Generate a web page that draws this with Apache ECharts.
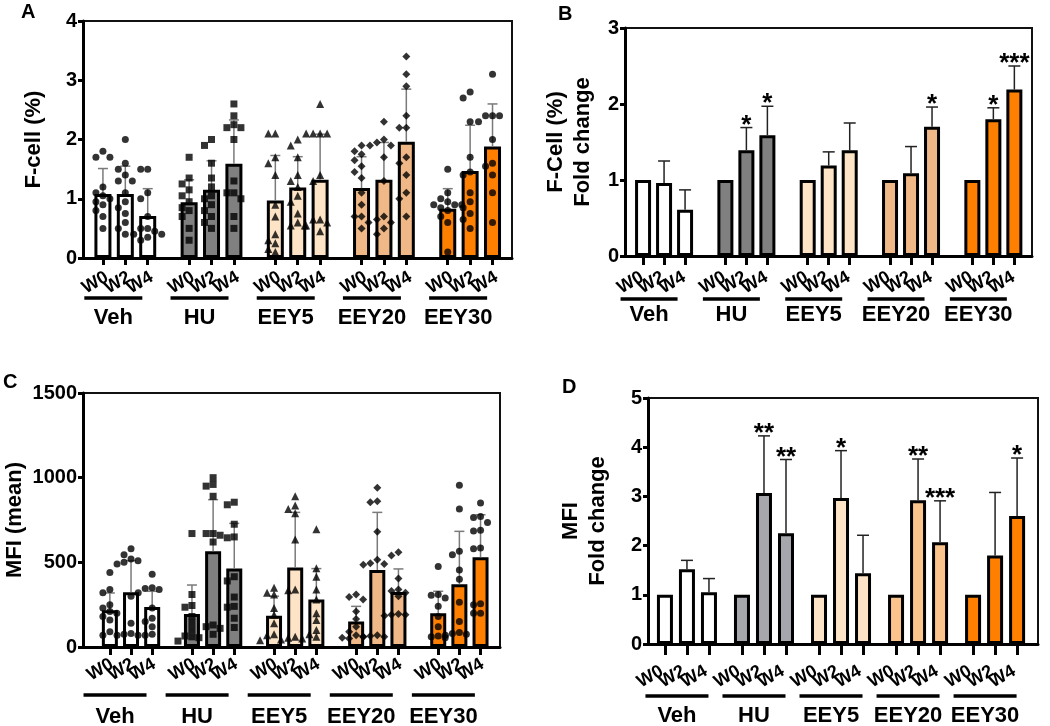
<!DOCTYPE html>
<html><head><meta charset="utf-8">
<script src="https://cdn.jsdelivr.net/npm/echarts@6/dist/echarts.min.js"></script>
<style>html,body{margin:0;padding:0;background:#fff}#c{width:1050px;height:726px}</style>
</head><body><div id="c"></div>
<script>
// ---------- data ----------
const groups = ['Veh', 'HU', 'EEY5', 'EEY20', 'EEY30'];
const weeks = ['W0', 'W2', 'W4'];

// Panel A: F-cell (%), order Veh W0,W2,W4, HU W0.. etc.
const fcellMean = [1.08, 1.08, 0.71, 0.94, 1.15, 1.59, 0.97, 1.19, 1.32, 1.18, 1.32, 1.96, 0.83, 1.47, 1.88];
const fcellErrTop = [1.51, 1.55, 1.17, 1.32, 1.64, 2.33, 1.73, 1.71, 2.09, 1.71, 1.95, 2.85, 1.17, 2.24, 2.60];
const fcellPoints = [
  [1.8, 1.7, 1.7, 1.2, 1.1, 1.05, 1.0, 0.95, 0.9, 0.8, 0.7, 0.5],
  [2.0, 1.6, 1.5, 1.4, 1.3, 1.3, 1.1, 0.95, 0.85, 0.75, 0.6, 0.5, 0.4],
  [1.5, 1.5, 1.1, 1.0, 0.7, 0.5, 0.5, 0.45, 0.4, 0.4, 0.35, 0.3],
  [1.7, 1.35, 1.25, 1.15, 1.05, 0.95, 0.85, 0.8, 0.7, 0.5, 0.3],
  [2.0, 1.9, 1.6, 1.35, 1.2, 1.05, 1.0, 0.9, 0.8, 0.7, 0.6, 0.5],
  [2.6, 2.4, 2.25, 2.2, 2.2, 2.0, 1.3, 1.1, 1.1, 1.0, 0.7, 0.5],
  [2.1, 2.1, 1.7, 1.6, 1.4, 0.9, 0.7, 0.4, 0.3, 0.25, 0.15, 0.1],
  [2.0, 1.9, 1.7, 1.4, 1.3, 1.2, 1.05, 0.95, 0.75, 0.6, 0.55, 0.55],
  [2.6, 2.1, 2.1, 2.1, 2.1, 1.4, 1.3, 0.65, 0.65, 0.6, 0.55, 0.45],
  [1.9, 1.8, 1.75, 1.65, 1.55, 1.45, 1.35, 1.1, 0.9, 0.7, 0.7, 0.6, 0.5],
  [2.3, 2.0, 1.95, 1.9, 1.9, 1.7, 1.3, 0.7, 0.65, 0.6, 0.5, 0.4],
  [3.4, 3.1, 2.9, 2.4, 2.2, 2.2, 1.7, 1.6, 1.4, 1.1, 1.0, 0.7],
  [1.5, 1.1, 1.0, 0.95, 0.9, 0.9, 0.9, 0.85, 0.8, 0.7, 0.6, 0.1],
  [2.8, 2.7, 2.3, 1.7, 1.45, 1.4, 1.1, 0.95, 0.85, 0.75, 0.65, 0.5],
  [3.1, 2.4, 2.4, 2.4, 2.3, 2.0, 1.6, 1.55, 1.4, 1.1, 0.6]
];

// Panel B: F-Cell (%) fold change
const fcellFoldMean = [1.0, 0.96, 0.61, 1.0, 1.39, 1.59, 1.0, 1.19, 1.39, 1.0, 1.09, 1.70, 1.0, 1.80, 2.19];
const fcellFoldErrTop = [null, 1.25, 0.87, null, 1.69, 1.97, null, 1.37, 1.75, null, 1.44, 1.96, null, 1.95, 2.50];
const fcellFoldSig = ['', '', '', '', '*', '*', '', '', '', '', '', '*', '', '*', '***'];

// Panel C: MFI (mean)
const mfiMean = [217, 323, 236, 195, 566, 463, 185, 470, 280, 150, 455, 325, 200, 370, 530];
const mfiErrTop = [319, 510, 329, 366, 870, 730, 300, 795, 463, 240, 795, 461, 329, 683, 781];
const mfiPoints = [
  [440, 340, 320, 250, 230, 210, 200, 180, 160, 90, 70],
  [580, 545, 520, 510, 500, 490, 300, 140, 80, 75, 70, 70],
  [430, 350, 345, 340, 320, 230, 170, 150, 120, 75, 70],
  [670, 310, 245, 235, 180, 140, 100, 65, 60, 55, 35],
  [1000, 960, 950, 890, 670, 670, 660, 620, 130, 120, 110, 75],
  [855, 840, 725, 650, 645, 415, 390, 295, 240, 235, 170, 115],
  [350, 320, 310, 230, 190, 140, 75, 70, 45, 40],
  [890, 835, 815, 790, 635, 340, 335, 60, 55, 50],
  [695, 465, 415, 340, 280, 200, 160, 100, 75, 60],
  [310, 295, 280, 210, 165, 120, 90, 70, 60, 55, 50],
  [940, 860, 855, 680, 515, 495, 490, 485, 70, 65, 60, 60],
  [560, 540, 405, 340, 330, 320, 300, 195, 190, 190, 185],
  [475, 310, 305, 290, 240, 180, 120, 65, 60, 55],
  [955, 815, 565, 545, 455, 400, 265, 150, 85, 80, 75, 70],
  [850, 770, 765, 735, 690, 685, 585, 580, 255, 250, 200, 200]
];

// Panel D: MFI fold change
const mfiFoldMean = [1.0, 1.52, 1.05, 1.0, 3.07, 2.25, 1.0, 2.97, 1.44, 1.0, 2.92, 2.07, 1.0, 1.80, 2.60];
const mfiFoldErrTop = [null, 1.70, 1.33, null, 4.23, 3.75, null, 3.93, 2.21, null, 3.76, 2.91, null, 3.08, 3.78];
const mfiFoldSig = ['', '', '', '', '**', '**', '', '*', '', '', '**', '***', '', '', '*'];

// ---------- styling / layout ----------
const FONT = 'Liberation Sans, Arial, sans-serif';
const colorsMain = ['#ffffff', '#808080', '#fde4c6', '#efb886', '#ff8000'];
const colorsD = ['#ffffff', '#a6a6ad', '#fde4c6', '#fbc48c', '#ff8000'];
const symbols = ['circle', 'rect', 'triangle', 'diamond', 'circle'];
const symbolSizes = [7, 7, 8, 8, 7];

function swarm(vals, pxPerUnit, step) {
  const order = vals.map((v, i) => i).sort((a, b) => vals[b] - vals[a]);
  const placed = [];
  const off = new Array(vals.length).fill(0);
  for (const i of order) {
    const y = vals[i] * pxPerUnit;
    for (let k = 0; k < 14; k++) {
      const c = k === 0 ? 0 : (k % 2 ? -1 : 1) * Math.ceil(k / 2) * step;
      if (placed.every(p => Math.hypot(p[0] - c, p[1] - y) >= step * 0.95)) {
        off[i] = c; placed.push([c, y]); break;
      }
    }
  }
  return off;
}

const panels = [
  { grid: {left: 83, top: 21, width: 429, height: 237}, G: 3.85, xmin: -0.89, xmax: 18.27, ymax: 4, yint: 1,
    name: 'F-cell (%)', nameGap: 36, colors: colorsMain, mean: fcellMean, err: fcellErrTop, pts: fcellPoints,
    sig: null, barW: 17, errColor: '#7a7a7a', errW: 1.5, capW: 5, tickLen: 7, wkDx: 4, wkDy: 18,
    lineDx: -12, lineW: 58, lineDy: 40, textDy: 60 },
  { grid: {left: 625, top: 28, width: 407, height: 228}, G: 3.92, xmin: -0.86, xmax: 18.52, ymax: 3, yint: 1,
    name: 'F-Cell (%)\nFold change', nameGap: 29, colors: colorsMain, mean: fcellFoldMean, err: fcellFoldErrTop, pts: null,
    sig: fcellFoldSig, barW: 16, errColor: '#222', errW: 1.5, capW: 6, tickLen: 9, wkDx: -1, wkDy: 20,
    lineDx: -15, lineW: 57, lineDy: 43, textDy: 59 },
  { grid: {left: 82, top: 393, width: 418, height: 254}, G: 3.88, xmin: -1.27, xmax: 18.44, ymax: 1500, yint: 500,
    name: 'MFI (mean)', nameGap: 55, colors: colorsMain, mean: mfiMean, err: mfiErrTop, pts: mfiPoints,
    sig: null, barW: 16, errColor: '#7a7a7a', errW: 1.5, capW: 5, tickLen: 8, wkDx: 2, wkDy: 16,
    lineDx: -16, lineW: 63, lineDy: 48, textDy: 70 },
  { grid: {left: 648, top: 398, width: 390, height: 246}, G: 3.5, xmin: -0.77, xmax: 16.95, ymax: 5, yint: 1,
    name: 'MFI\nFold change', nameGap: 37, colors: colorsD, mean: mfiFoldMean, err: mfiFoldErrTop, pts: null,
    sig: mfiFoldSig, barW: 16, errColor: '#222', errW: 1.5, capW: 6, tickLen: 11, wkDx: -3, wkDy: 26,
    lineDx: -10, lineW: 63, lineDy: 52, textDy: 72 }
];

const grids = [], xAxes = [], yAxes = [], series = [];

panels.forEach((P, i) => {
  const xs = [];
  for (let g = 0; g < groups.length; g++) for (let b = 0; b < weeks.length; b++) xs.push(+(g * P.G + b).toFixed(3));
  const uPx = P.grid.width / (P.xmax - P.xmin);
  const yPx = P.grid.height / P.ymax;

  grids.push(Object.assign({show: true, borderColor: '#111', borderWidth: 2, backgroundColor: 'transparent'}, P.grid));

  xAxes.push({
    gridIndex: i, type: 'value', min: P.xmin, max: P.xmax,
    axisLine: {show: true, onZero: false, lineStyle: {color: '#000', width: 3}},
    axisTick: {show: true, customValues: xs, length: P.tickLen, lineStyle: {color: '#000', width: 3}},
    axisLabel: {show: false},
    splitLine: {show: false}
  });

  yAxes.push({
    gridIndex: i, type: 'value', min: 0, max: P.ymax, interval: P.yint,
    axisLine: {show: true, onZero: false, lineStyle: {color: '#000', width: 3}},
    axisTick: {show: true, length: 5, lineStyle: {color: '#000', width: 3}},
    axisLabel: {fontSize: 20, fontWeight: 'bold', color: '#000', fontFamily: FONT, margin: 6, formatter: v => String(v)},
    splitLine: {show: false},
    name: P.name, nameLocation: 'middle', nameRotate: 90, nameGap: P.nameGap,
    nameTextStyle: {fontSize: 22, fontWeight: 'bold', color: '#000', fontFamily: FONT, lineHeight: 27}
  });

  // bars
  series.push({
    type: 'bar', xAxisIndex: i, yAxisIndex: i, barWidth: P.barW, silent: true, z: 2,
    itemStyle: {borderColor: '#000', borderWidth: 3},
    data: P.mean.map((m, k) => ({value: [xs[k], m], itemStyle: {color: P.colors[Math.floor(k / 3)]}}))
  });

  // error bars (+ significance stars)
  const errData = [], errSig = [];
  P.err.forEach((t, k) => { if (t != null) { errData.push([xs[k], P.mean[k], t]); errSig.push(P.sig ? P.sig[k] : ''); } });
  series.push({
    type: 'custom', xAxisIndex: i, yAxisIndex: i, silent: true, z: 3, clip: false,
    encode: {x: 0, y: [1, 2]},
    data: errData,
    renderItem: (params, api) => {
      const x = api.value(0), m = api.value(1), t = api.value(2);
      const p0 = api.coord([x, m]), p1 = api.coord([x, t]);
      const ch = [
        {type: 'line', shape: {x1: p0[0], y1: p0[1], x2: p1[0], y2: p1[1]}, style: {stroke: P.errColor, lineWidth: P.errW}},
        {type: 'line', shape: {x1: p1[0] - P.capW, y1: p1[1], x2: p1[0] + P.capW, y2: p1[1]}, style: {stroke: P.errColor, lineWidth: P.errW}}
      ];
      const s = errSig[params.dataIndex];
      if (s) ch.push({type: 'text', style: {text: s, x: p1[0], y: p1[1] - 2, align: 'center', verticalAlign: 'middle',
        font: 'bold 26px ' + FONT, fill: '#000'}});
      return {type: 'group', children: ch};
    }
  });

  // individual points
  if (P.pts) {
    groups.forEach((gName, g) => {
      const data = [];
      for (let b = 0; b < 3; b++) {
        const k = g * 3 + b;
        const vals = P.pts[k];
        const off = swarm(vals, yPx, 7);
        vals.forEach((v, j) => data.push([xs[k] + off[j] / uPx, v]));
      }
      series.push({type: 'scatter', xAxisIndex: i, yAxisIndex: i, silent: true, z: 4,
        symbol: symbols[g], symbolSize: symbolSizes[g], itemStyle: {color: '#000'}, data: data});
    });
  }

  // week labels under each bar (rotated)
  series.push({
    type: 'custom', xAxisIndex: i, yAxisIndex: i, silent: true, clip: false, z: 5,
    data: xs.map(x => [x, 0]),
    renderItem: (params, api) => {
      const p = api.coord([api.value(0), 0]);
      return {type: 'text', x: p[0] + P.wkDx, y: p[1] + P.wkDy, rotation: 30 * Math.PI / 180,
        style: {text: weeks[params.dataIndex % 3], align: 'right', verticalAlign: 'middle', font: 'bold 18px ' + FONT, fill: '#000'}};
    }
  });

  // group underline + group names
  series.push({
    type: 'custom', xAxisIndex: i, yAxisIndex: i, silent: true, clip: false, z: 5,
    data: groups.map((gName, g) => [xs[g * 3 + 1], 0]),
    renderItem: (params, api) => {
      const p = api.coord([api.value(0), 0]);
      const cx = p[0] + P.lineDx;
      return {type: 'group', children: [
        {type: 'rect', shape: {x: cx - P.lineW / 2, y: p[1] + P.lineDy - 1.75, width: P.lineW, height: 3.5}, style: {fill: '#000'}},
        {type: 'text', style: {text: groups[params.dataIndex], x: cx, y: p[1] + P.textDy, align: 'center', verticalAlign: 'middle',
          font: 'bold 22px ' + FONT, fill: '#000'}}
      ]};
    }
  });
});

const chart = echarts.init(document.getElementById('c'), null, {renderer: 'canvas'});
chart.setOption({
  animation: false,
  backgroundColor: '#fff',
  grid: grids, xAxis: xAxes, yAxis: yAxes, series: series,
  graphic: [
    {type: 'text', left: 21, top: 2, style: {text: 'A', font: 'bold 20px ' + FONT, fill: '#000'}},
    {type: 'text', left: 558, top: 4, style: {text: 'B', font: 'bold 20px ' + FONT, fill: '#000'}},
    {type: 'text', left: 3, top: 372, style: {text: 'C', font: 'bold 20px ' + FONT, fill: '#000'}},
    {type: 'text', left: 562, top: 377, style: {text: 'D', font: 'bold 20px ' + FONT, fill: '#000'}}
  ]
});
</script></body></html>
